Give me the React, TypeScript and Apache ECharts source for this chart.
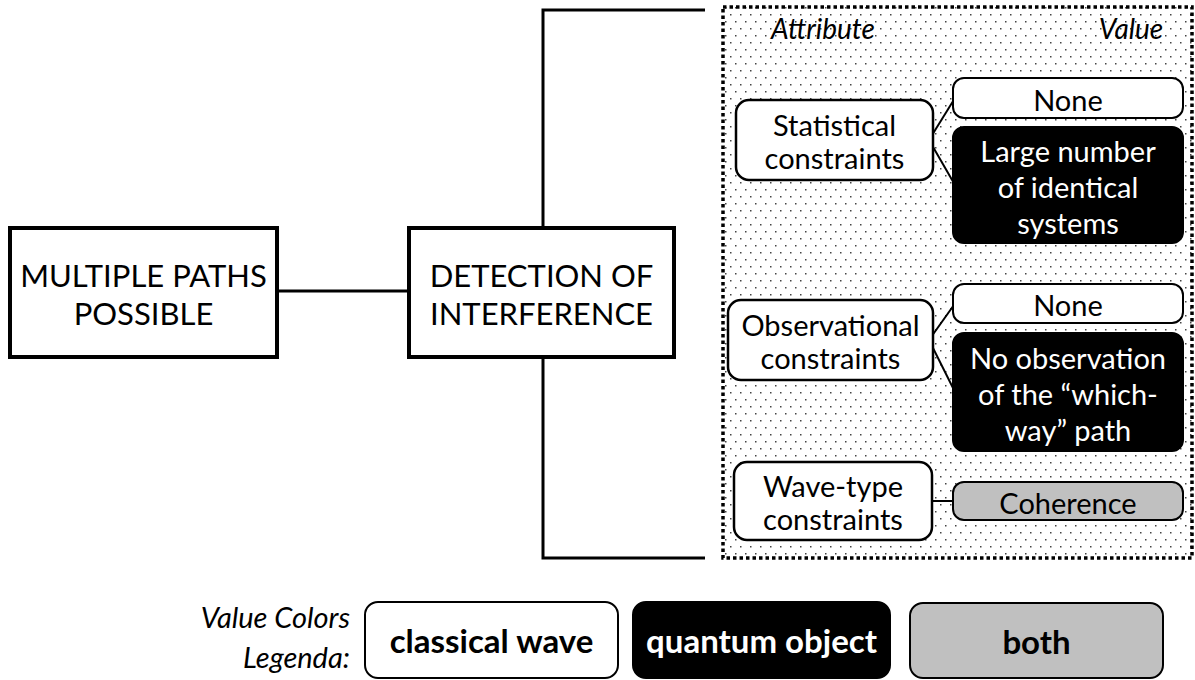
import React, { useEffect, useRef } from "react";
import * as echarts from "echarts";

// ---- content ----
const ROOT_NODES = ["MULTIPLE PATHS\nPOSSIBLE", "DETECTION OF\nINTERFERENCE"];
const HEADERS = ["Attribute", "Value"];
const ATTRIBUTES = ["Statistical\nconstraints", "Observational\nconstraints", "Wave-type\nconstraints"];
const VALUES = [
  ["None", "Large number\nof identical\nsystems"],
  ["None", "No observation\nof the \u201cwhich-\nway\u201d path"],
  ["Coherence"],
];
const VALUE_KINDS = [
  ["classical", "quantum"],
  ["classical", "quantum"],
  ["both"],
];
const LEGEND_TITLE = "Value Colors\nLegenda:";
const LEGEND_KEYS = ["classical", "quantum", "both"];
const LEGEND_LABELS = ["classical wave", "quantum object", "both"];

// ---- layout & style ----
const FONT = "Lato, 'Open Sans', sans-serif";
const KIND_STYLE: Record<string, { fill: string; text: string }> = {
  classical: { fill: "#ffffff", text: "#000000" },
  quantum: { fill: "#000000", text: "#ffffff" },
  both: { fill: "#c0c0c0", text: "#000000" },
};
const ROOT_BOXES = [
  { x: 10, y: 228, w: 267, h: 129 },
  { x: 409, y: 228, w: 265, h: 129 },
];
const PANEL = { x: 723, y: 7, w: 469, h: 551 };
const BRACKET = { x: 543, top: 10, bottom: 558, right: 705 };
const ATTR_BOXES = [
  { x: 736, y: 100, w: 197, h: 80 },
  { x: 728, y: 300, w: 205, h: 80 },
  { x: 734, y: 462, w: 198, h: 78 },
];
const VALUE_BOXES = [
  [
    { x: 953, y: 78, w: 230, h: 40 },
    { x: 953, y: 127, w: 230, h: 116 },
  ],
  [
    { x: 953, y: 284, w: 230, h: 39 },
    { x: 953, y: 333, w: 230, h: 118 },
  ],
  [{ x: 953, y: 482, w: 230, h: 38 }],
];
const LEGEND_BOXES = [
  { x: 365, y: 602, w: 253, h: 76 },
  { x: 633, y: 602, w: 257, h: 76 },
  { x: 910, y: 603, w: 253, h: 75 },
];

function dotPattern() {
  const c = document.createElement("canvas");
  c.width = 10;
  c.height = 14;
  const ctx = c.getContext("2d")!;
  ctx.fillStyle = "#444444";
  ctx.fillRect(0, 0, 1.5, 1.5);
  ctx.fillRect(5, 7, 1.5, 1.5);
  return { image: c, repeat: "repeat" } as any;
}

function buildGraphics() {
  const els: any[] = [];
  // root boxes
  ROOT_NODES.forEach((t, i) => {
    const b = ROOT_BOXES[i];
    els.push({
      type: "rect",
      shape: { x: b.x, y: b.y, width: b.w, height: b.h },
      style: { fill: "#fff", stroke: "#000", lineWidth: 4 },
    });
    els.push({
      type: "text",
      style: {
        text: t, x: b.x + b.w / 2, y: b.y + b.h / 2 + 1, align: "center", verticalAlign: "middle",
        font: `31px ${FONT}`, lineHeight: 38, fill: "#000",
      },
    });
  });
  // connector root -> root
  const r0 = ROOT_BOXES[0], r1 = ROOT_BOXES[1];
  els.push({
    type: "line",
    shape: { x1: r0.x + r0.w, y1: 291, x2: r1.x, y2: 291 },
    style: { stroke: "#000", lineWidth: 3 },
  });
  // bracket
  els.push({
    type: "polyline",
    shape: { points: [[BRACKET.right, BRACKET.top], [BRACKET.x, BRACKET.top], [BRACKET.x, r1.y]] },
    style: { stroke: "#000", lineWidth: 3, fill: null },
  });
  els.push({
    type: "polyline",
    shape: { points: [[BRACKET.x, r1.y + r1.h], [BRACKET.x, BRACKET.bottom], [BRACKET.right, BRACKET.bottom]] },
    style: { stroke: "#000", lineWidth: 3, fill: null },
  });
  // panel
  els.push({
    type: "rect",
    shape: { x: PANEL.x, y: PANEL.y, width: PANEL.w, height: PANEL.h },
    style: { fill: dotPattern(), stroke: "#000", lineWidth: 3.5, lineDash: [3.5, 3] },
  });
  // headers
  els.push({
    type: "text",
    style: { text: HEADERS[0], x: 823, y: 28, align: "center", verticalAlign: "middle", font: `italic 28px ${FONT}`, fill: "#000" },
  });
  els.push({
    type: "text",
    style: { text: HEADERS[1], x: 1131, y: 28, align: "center", verticalAlign: "middle", font: `italic 28px ${FONT}`, fill: "#000" },
  });
  // attributes & values
  ATTRIBUTES.forEach((a, i) => {
    const b = ATTR_BOXES[i];
    const cy = b.y + b.h / 2;
    VALUES[i].forEach((v, j) => {
      const vb = VALUE_BOXES[i][j];
      els.push({
        type: "line",
        shape: { x1: b.x + b.w - 4, y1: cy, x2: vb.x + 2, y2: vb.y + vb.h / 2 },
        style: { stroke: "#000", lineWidth: 2 },
      });
    });
    els.push({
      type: "rect",
      shape: { x: b.x, y: b.y, width: b.w, height: b.h, r: 13 },
      style: { fill: "#fff", stroke: "#000", lineWidth: 2.5 },
    });
    els.push({
      type: "text",
      style: {
        text: a, x: b.x + b.w / 2, y: cy + 1, align: "center", verticalAlign: "middle",
        font: `29px ${FONT}`, lineHeight: 33, fill: "#000",
      },
    });
    VALUES[i].forEach((v, j) => {
      const vb = VALUE_BOXES[i][j];
      const ks = KIND_STYLE[VALUE_KINDS[i][j]];
      els.push({
        type: "rect",
        shape: { x: vb.x, y: vb.y, width: vb.w, height: vb.h, r: 11 },
        style: { fill: ks.fill, stroke: "#000", lineWidth: 2 },
      });
      els.push({
        type: "text",
        style: {
          text: v, x: vb.x + vb.w / 2, y: vb.y + vb.h / 2 + 1, align: "center", verticalAlign: "middle",
          font: `29px ${FONT}`, lineHeight: 36, fill: ks.text,
        },
      });
    });
  });
  // legend
  els.push({
    type: "text",
    style: {
      text: LEGEND_TITLE, x: 350, y: 636, align: "right", verticalAlign: "middle",
      font: `italic 29px ${FONT}`, lineHeight: 40, fill: "#000",
    },
  });
  LEGEND_KEYS.forEach((k, i) => {
    const b = LEGEND_BOXES[i];
    const ks = KIND_STYLE[k];
    els.push({
      type: "rect",
      shape: { x: b.x, y: b.y, width: b.w, height: b.h, r: 13 },
      style: { fill: ks.fill, stroke: "#000", lineWidth: 2 },
    });
    els.push({
      type: "text",
      style: {
        text: LEGEND_LABELS[i], x: b.x + b.w / 2, y: b.y + b.h / 2, align: "center", verticalAlign: "middle",
        font: `bold 33px ${FONT}`, fill: ks.text,
      },
    });
  });
  return els;
}

export default function App() {
  const ref = useRef<HTMLDivElement>(null);
  useEffect(() => {
    if (!ref.current) return;
    const chart = echarts.init(ref.current, undefined, { renderer: "svg" });
    chart.setOption({
      animation: false,
      backgroundColor: "#ffffff",
      graphic: { elements: buildGraphics() },
    });
    return () => chart.dispose();
  }, []);
  return (
    <div
      ref={ref}
      style={{ position: "fixed", left: 0, top: 0, width: 1195, height: 680, background: "#fff" }}
    />
  );
}
